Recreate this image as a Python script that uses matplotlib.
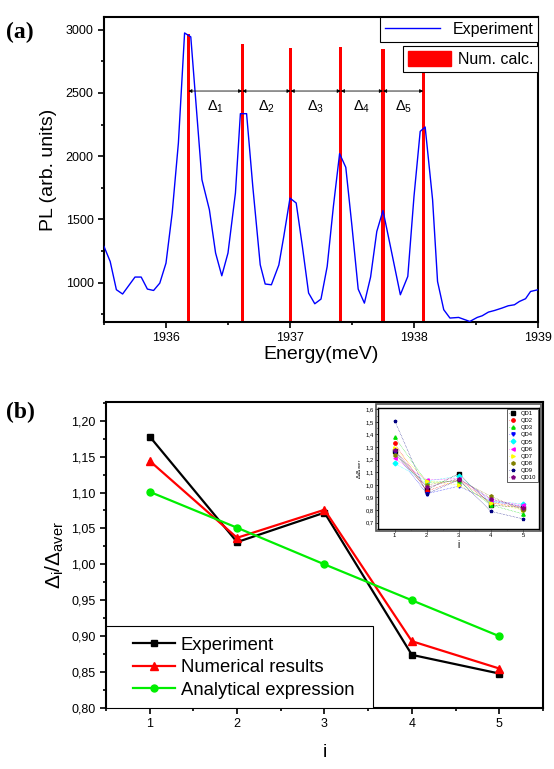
import numpy as np
import matplotlib.pyplot as plt
from matplotlib.ticker import MultipleLocator, FuncFormatter
from matplotlib.patches import Patch, Rectangle
from matplotlib.lines import Line2D

plt.rcParams['font.family'] = ['Liberation Sans', 'DejaVu Sans']
plt.rcParams['mathtext.fontset'] = 'custom'
plt.rcParams['mathtext.rm'] = 'Liberation Sans'
plt.rcParams['mathtext.it'] = 'Liberation Sans:italic'

# (a) PL spectrum
energy = [1935.50, 1935.55, 1935.60, 1935.65, 1935.75, 1935.80, 1935.85, 1935.90,
          1935.95, 1936.00, 1936.05, 1936.10, 1936.15, 1936.20, 1936.29, 1936.35,
          1936.40, 1936.45, 1936.50, 1936.56, 1936.60, 1936.65, 1936.70, 1936.76,
          1936.80, 1936.85, 1936.91, 1936.95, 1937.00, 1937.05, 1937.10, 1937.15,
          1937.20, 1937.25, 1937.30, 1937.35, 1937.40, 1937.45, 1937.50, 1937.55,
          1937.60, 1937.65, 1937.70, 1937.75, 1937.81, 1937.89, 1937.95, 1938.00,
          1938.05, 1938.09, 1938.15, 1938.19, 1938.24, 1938.29, 1938.36, 1938.45,
          1938.51, 1938.55, 1938.60, 1938.65, 1938.71, 1938.76, 1938.81, 1938.85,
          1938.90, 1938.94, 1939.00]
pl = [1287, 1168, 945, 911, 1045, 1045, 950, 939,
      997, 1155, 1551, 2104, 2974, 2943, 1814, 1577,
      1235, 1055, 1235, 1709, 2336, 2336, 1761, 1142,
      990, 984, 1140, 1366, 1669, 1630, 1287, 919,
      834, 871, 1129, 1603, 2020, 1912, 1445, 950,
      839, 1045, 1405, 1571, 1287, 905, 1050, 1682,
      2196, 2231, 1656, 1010, 787, 721, 726, 694,
      726, 739, 768, 781, 800, 818, 826, 852,
      874, 931, 945]
calc_pos = [1936.18, 1936.615, 1937.005, 1937.41, 1937.75, 1938.075]
calc_height = [2966, 2889, 2855, 2860, 2847, 2840]
delta_labels = [r'$\Delta_1$', r'$\Delta_2$', r'$\Delta_3$', r'$\Delta_4$', r'$\Delta_5$']

# (b) normalised spacings
idx = [1, 2, 3, 4, 5]
experiment = [1.178, 1.031, 1.072, 0.874, 0.848]
numerical = [1.144, 1.037, 1.076, 0.893, 0.855]
analytical = [1.101, 1.051, 1.000, 0.950, 0.900]

# inset: 10 quantum dots
qd_names = ['QD1', 'QD2', 'QD3', 'QD4', 'QD5', 'QD6', 'QD7', 'QD8', 'QD9', 'QD10']
qd1 = [1.27, 0.96, 1.09, 0.84, 0.82]
qd2 = [1.33, 0.95, 1.04, 0.86, 0.82]
qd3 = [1.38, 1.02, 1.03, 0.84, 0.77]
qd4 = [1.26, 0.93, 0.99, 0.87, 0.83]
qd5 = [1.17, 1.03, 1.07, 0.87, 0.85]
qd6 = [1.21, 1.04, 1.05, 0.88, 0.84]
qd7 = [1.29, 1.03, 1.00, 0.86, 0.80]
qd8 = [1.24, 1.00, 1.04, 0.91, 0.80]
qd9 = [1.51, 0.93, 1.04, 0.79, 0.73]
qd10 = [1.28, 0.98, 1.05, 0.89, 0.82]
qd_data = [qd1, qd2, qd3, qd4, qd5, qd6, qd7, qd8, qd9, qd10]
qd_colors = ['black', 'red', '#00dd00', 'blue', 'cyan', 'magenta', 'yellow', '#808000', 'navy', 'purple']
qd_markers = ['s', 'o', '^', 'v', 'D', '<', '>', 'h', '*', 'p']

fig = plt.figure(figsize=(5.54, 7.69), dpi=100)

# ---------------- (a)
ax = fig.add_axes([0.1877, 0.5813, 0.7834, 0.3966])
ax.bar(calc_pos, calc_height, width=0.025, color='red', zorder=2)
ax.plot(energy, pl, color='blue', lw=1.0, zorder=3)
ax.set_xlim(1935.5, 1939)
ax.set_ylim(690, 3100)
ax.xaxis.set_major_locator(MultipleLocator(1))
ax.xaxis.set_minor_locator(MultipleLocator(0.5))
ax.yaxis.set_major_locator(MultipleLocator(500))
ax.yaxis.set_minor_locator(MultipleLocator(250))
ax.tick_params(which='both', direction='out', labelsize=9, width=1.2)
ax.tick_params(which='major', length=4)
ax.tick_params(which='minor', length=2.5)
for s in ax.spines.values():
    s.set_linewidth(1.5)
ax.set_xlabel('Energy(meV)', fontsize=14, labelpad=1)
ax.set_ylabel('PL (arb. units)', fontsize=14, labelpad=6)

for k in range(5):
    x0, x1 = calc_pos[k], calc_pos[k + 1]
    ax.annotate('', xy=(x1, 2515), xytext=(x0, 2515),
                arrowprops=dict(arrowstyle='<|-|>', color='black', lw=0.6,
                                mutation_scale=5, shrinkA=0, shrinkB=0))
    ax.text((x0 + x1) / 2, 2390, delta_labels[k], ha='center', va='center', fontsize=10.5)

leg1 = ax.legend(handles=[Line2D([], [], color='blue', lw=1)], labels=['Experiment'],
                 loc='upper right', fontsize=11.5, frameon=True, fancybox=False,
                 borderaxespad=0, handlelength=3.4, borderpad=0.3,
                 edgecolor='black', framealpha=1)
leg1.get_frame().set_linewidth(0.8)
ax.add_artist(leg1)
leg2 = ax.legend(handles=[Patch(color='red')], labels=['Num. calc.'],
                 loc='upper right', bbox_to_anchor=(1.0, 0.905), fontsize=11.5,
                 frameon=True, fancybox=False, borderaxespad=0, handlelength=2.7,
                 handleheight=1.1, handletextpad=0.4, borderpad=0.3,
                 edgecolor='black', framealpha=1)
leg2.get_frame().set_linewidth(0.8)

fig.text(0.01, 0.972, '(a)', fontsize=17, fontweight='bold', family='Liberation Serif',
         va='top', ha='left')

# ---------------- (b)
bx = fig.add_axes([0.1913, 0.0793, 0.7888, 0.3979])
bx.plot(idx, experiment, color='black', lw=1.6, marker='s', ms=5, label='Experiment')
bx.plot(idx, numerical, color='red', lw=1.6, marker='^', ms=6, label='Numerical results')
bx.plot(idx, analytical, color='#00ee00', lw=1.6, marker='o', ms=5, label='Analytical expression')
bx.set_xlim(0.5, 5.5)
bx.set_ylim(0.80, 1.226)
bx.xaxis.set_major_locator(MultipleLocator(1))
bx.xaxis.set_minor_locator(MultipleLocator(0.5))
bx.yaxis.set_major_locator(MultipleLocator(0.05))
bx.yaxis.set_minor_locator(MultipleLocator(0.025))
bx.yaxis.set_major_formatter(FuncFormatter(lambda v, p: f'{v:.2f}'.replace('.', ',')))
bx.tick_params(which='both', direction='out', labelsize=9, width=1.2)
bx.tick_params(which='major', length=4)
bx.tick_params(which='minor', length=2.5)
for s in bx.spines.values():
    s.set_linewidth(1.5)
bx.set_xlabel('i', fontsize=14, labelpad=10)
bx.set_ylabel(r'$\Delta_{\mathrm{i}}/\Delta_{\mathrm{aver}}$', fontsize=15, labelpad=4)
# legend box drawn separately so the entries can sit with a wider left margin
bx.add_patch(Rectangle((0, 0), 0.611, 0.268, transform=bx.transAxes, facecolor='white',
                       edgecolor='black', lw=0.8, zorder=4))
lg = bx.legend(loc='lower left', bbox_to_anchor=(0.04, 0.0), borderaxespad=0, fontsize=13.3,
               frameon=False, handlelength=2.3, handletextpad=0.3, borderpad=0.5,
               labelspacing=0.3)
lg.set_zorder(5)

fig.text(0.01, 0.478, '(b)', fontsize=17, fontweight='bold', family='Liberation Serif',
         va='top', ha='left')

# ---------------- inset
ix = fig.add_axes([0.6823, 0.3121, 0.2906, 0.1573])
for name, vals, c, m in zip(qd_names, qd_data, qd_colors, qd_markers):
    ix.plot(idx, vals, color=c, lw=0.4, ls=':', marker=m, ms=2.4, label=name)
ix.set_xlim(0.48, 5.5)
ix.set_ylim(0.65, 1.61)
ix.xaxis.set_major_locator(MultipleLocator(1))
ix.xaxis.set_minor_locator(MultipleLocator(0.5))
ix.yaxis.set_major_locator(MultipleLocator(0.1))
ix.yaxis.set_minor_locator(MultipleLocator(0.05))
ix.yaxis.set_major_formatter(FuncFormatter(lambda v, p: f'{v:.1f}'.replace('.', ',')))
ix.tick_params(which='both', direction='out', labelsize=4.2, width=0.6, pad=1)
ix.tick_params(which='major', length=2)
ix.tick_params(which='minor', length=1)
for s in ix.spines.values():
    s.set_linewidth(1.0)
ix.set_xlabel('i', fontsize=7, labelpad=1)
ix.set_ylabel(r'$\Delta/\Delta_{\mathrm{aver}}$', fontsize=4.5, labelpad=1)
il = ix.legend(loc='upper right', fontsize=4.2, fancybox=False, edgecolor='#444444',
               framealpha=1, handlelength=1.2, borderpad=0.3, labelspacing=0.35,
               borderaxespad=0.2, markerscale=1.0)
il.get_frame().set_linewidth(0.6)
# double frame around the inset
fig.patches.append(Rectangle((0.6785, 0.3095), 0.2985, 0.1645, transform=fig.transFigure,
                             fill=False, edgecolor='#555555', lw=1.2, zorder=5))

fig.savefig('out.png', dpi=100)
